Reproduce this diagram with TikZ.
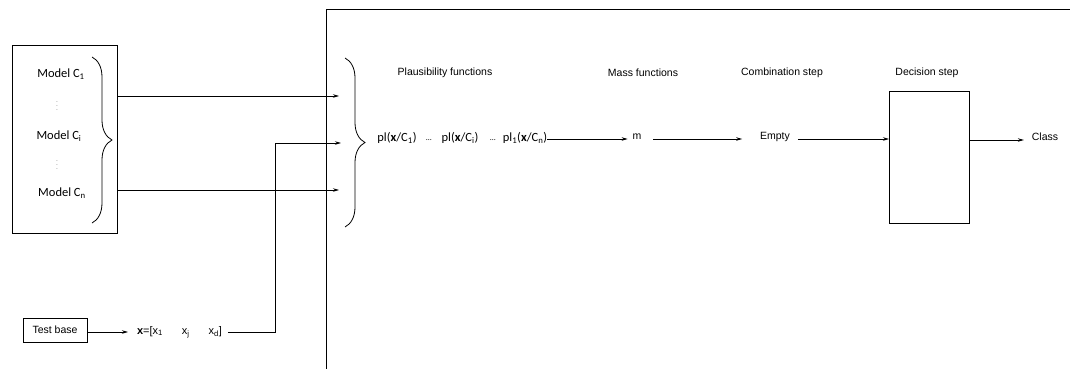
\documentclass[tikz,border=0pt]{standalone}
\usepackage{fontspec}
\setmainfont{Liberation Sans}
\newfontfamily\calfont{Carlito}
\usetikzlibrary{arrows.meta,decorations.pathreplacing}
\begin{document}
\begin{tikzpicture}[x=1pt,y=-1pt,
  every node/.style={inner sep=0pt,outer sep=0pt},
  lab/.style={font=\fontsize{10.5}{12}\selectfont},
  cal/.style={font=\calfont\fontsize{12.5}{14}\selectfont},
  box/.style={draw,line width=0.8pt},
  arr/.style={line width=0.8pt,-{Stealth[length=6pt,width=3.5pt]}},
  brc/.style={line width=0.8pt,decorate,decoration={brace,amplitude=#1}}]
\useasboundingbox (0,0) rectangle (1070,369);
% frame
\draw[line width=0.9pt] (326,369) -- (326,9) -- (1071,9);
% model box
\node[box,minimum width=105pt,minimum height=188pt] (models) at (64.5,139) {};
\node[cal] (m1) at (61,74) {Model C\textsubscript{1}};
\node[font=\tiny] (d1) at (57,103) {$\vdots$};
\node[cal] (mi) at (59,136) {Model C\textsubscript{i}};
\node[font=\tiny] (d2) at (57,162) {$\vdots$};
\node[cal] (mn) at (62,193) {Model C\textsubscript{n}};
\draw[brc=20pt] (92,57) -- (92,223);
% big brace
\draw[brc=20pt] (345,58) -- (345,227);
\coordinate (b1) at (339,96);
\coordinate (b2) at (341,143);
\coordinate (b3) at (339,190);
\draw[arr] (models.east |- b1) -- (b1);
\draw[arr] (models.east |- b3) -- (b3);
% test base
\node[box,lab,minimum width=64pt,minimum height=24pt] (test) at (55,330) {Test base};
\node[lab,anchor=west,font=\fontsize{11}{12}\selectfont] (xvec) at (137,332) {\textbf{x}=[x\textsubscript{1}\hspace{19pt}x\textsubscript{j}\hspace{19pt}x\textsubscript{d}]};
\draw[arr] (test.east |- xvec) -- ([xshift=-9pt]xvec.west);
\coordinate (turn) at (275,143);
\draw[arr] ([xshift=6pt]xvec.east) -| (turn) -- (b2);
% headings
\node[lab] (h1) at (445,73) {Plausibility functions};
\node[lab] (h2) at (643,73) {Mass functions};
\node[lab] (h3) at (782,73) {Combination step};
\node[lab] (h4) at (927,73) {Decision step};
% chain
\node[cal] (pl1) at (397,138) {pl(\textbf{x}/C\textsubscript{1})};
\node[cal,font=\calfont\fontsize{8}{9}\selectfont] (e1) at (429,140) {…};
\node[cal] (pli) at (460,138) {pl(\textbf{x}/C\textsubscript{i})};
\node[cal,font=\calfont\fontsize{8}{9}\selectfont] (e2) at (493,140) {…};
\node[cal] (pln) at (525,138) {pl\textsubscript{1}(\textbf{x}/C\textsubscript{n})};
\node[lab] (m) at (637,137) {m};
\node[lab] (empty) at (775,137) {Empty};
\node[box,minimum width=80pt,minimum height=132pt] (dec) at (929,157) {};
\node[lab] (class) at (1045,137) {Class};
\draw[arr] (pln.east |- 0,139) -- ([xshift=-5pt]m.west |- 0,139);
\draw[arr] ([xshift=12pt]m.east |- 0,139) -- ([xshift=-18pt]empty.west |- 0,139);
\draw[arr] ([xshift=8pt]empty.east |- 0,139) -- (dec.west |- 0,139);
\draw[arr] (dec.east |- 0,140) -- ([xshift=-8pt]class.west |- 0,140);
\end{tikzpicture}
\end{document}
